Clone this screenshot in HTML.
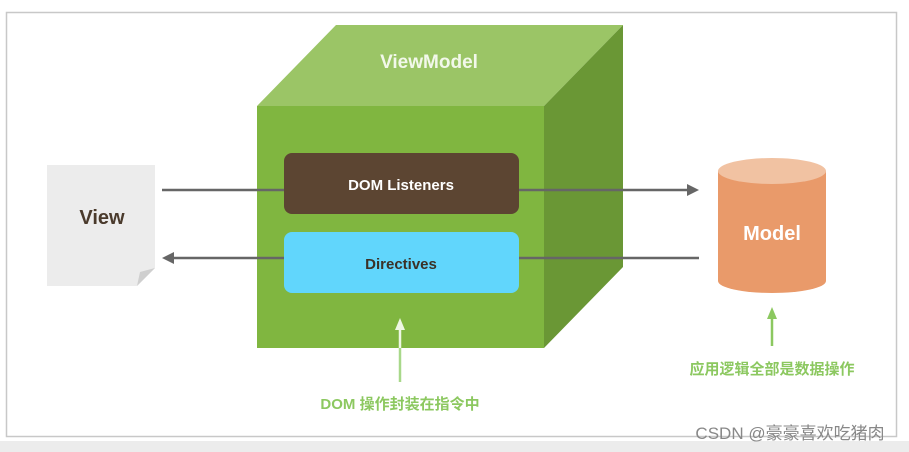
<!DOCTYPE html>
<html><head><meta charset="utf-8"><style>
html,body{margin:0;padding:0;background:#fff;}
body{width:909px;height:452px;position:relative;overflow:hidden;font-family:"Liberation Sans","Noto Sans CJK SC",sans-serif;}
</style></head><body>
<svg width="909" height="452" xmlns="http://www.w3.org/2000/svg" style="position:absolute;left:0;top:0">
<rect x="0" y="441" width="909" height="11" fill="#ececec"/>
<rect x="6.5" y="12.5" width="890" height="424" fill="#fff" stroke="#c8c8c8" stroke-width="1.5"/>
<!-- view paper -->
<polygon points="47,165 155,165 155,268 137,286 47,286" fill="#ececec"/>
<polygon points="137,286 155,268 140,272" fill="#cfcfcf"/>
<text x="102" y="224" font-size="20" font-weight="bold" fill="#4a3a2c" text-anchor="middle">View</text>
<!-- cube -->
<polygon points="336,25 623,25 544,106 257,106" fill="#9bc566"/>
<polygon points="544,106 623,25 623,267 544,348" fill="#6a9735"/>
<rect x="257" y="106" width="287" height="242" fill="#80b640"/>
<text x="429" y="68" font-size="19" font-weight="bold" fill="#f2f8ea" text-anchor="middle">ViewModel</text>
<!-- arrows -->
<line x1="162" y1="190" x2="690" y2="190" stroke="#666" stroke-width="2.5"/>
<polygon points="699,190 687,184 687,196" fill="#666"/>
<line x1="172" y1="258" x2="699" y2="258" stroke="#666" stroke-width="2.5"/>
<polygon points="162,258 174,252 174,264" fill="#666"/>
<rect x="284" y="153" width="235" height="61" rx="8" fill="#5c4532"/>
<text x="401" y="190" font-size="15" font-weight="bold" fill="#fff" text-anchor="middle">DOM Listeners</text>
<rect x="284" y="232" width="235" height="61" rx="8" fill="#61d6fc"/>
<text x="401" y="269" font-size="15" font-weight="bold" fill="#3b3126" text-anchor="middle">Directives</text>
<!-- model -->
<rect x="718" y="171" width="108" height="110" fill="#e99a6a"/>
<ellipse cx="772" cy="281" rx="54" ry="12" fill="#e99a6a"/>
<ellipse cx="772" cy="171" rx="54" ry="13" fill="#f1c2a2"/>
<text x="772" y="240" font-size="20" font-weight="bold" fill="#fff" text-anchor="middle">Model</text>
<!-- green arrows -->
<line x1="400" y1="382" x2="400" y2="348" stroke="#a8d88a" stroke-width="2.5"/>
<line x1="400" y1="348" x2="400" y2="328" stroke="#eef7e4" stroke-width="2.5"/>
<polygon points="400,318 395,330 405,330" fill="#eef7e4"/>
<line x1="772" y1="346" x2="772" y2="316" stroke="#8cc860" stroke-width="2.5"/>
<polygon points="772,307 767,319 777,319" fill="#8cc860"/>
<text x="772" y="374" font-size="15" font-weight="bold" fill="#8cc860" text-anchor="middle">应用逻辑全部是数据操作</text>
<text x="400" y="409" font-size="15" font-weight="bold" fill="#8cc860" text-anchor="middle">DOM 操作封装在指令中</text>
<text x="790" y="439" font-size="17" fill="#888" text-anchor="middle">CSDN @豪豪喜欢吃猪肉</text>
</svg>
</body></html>
